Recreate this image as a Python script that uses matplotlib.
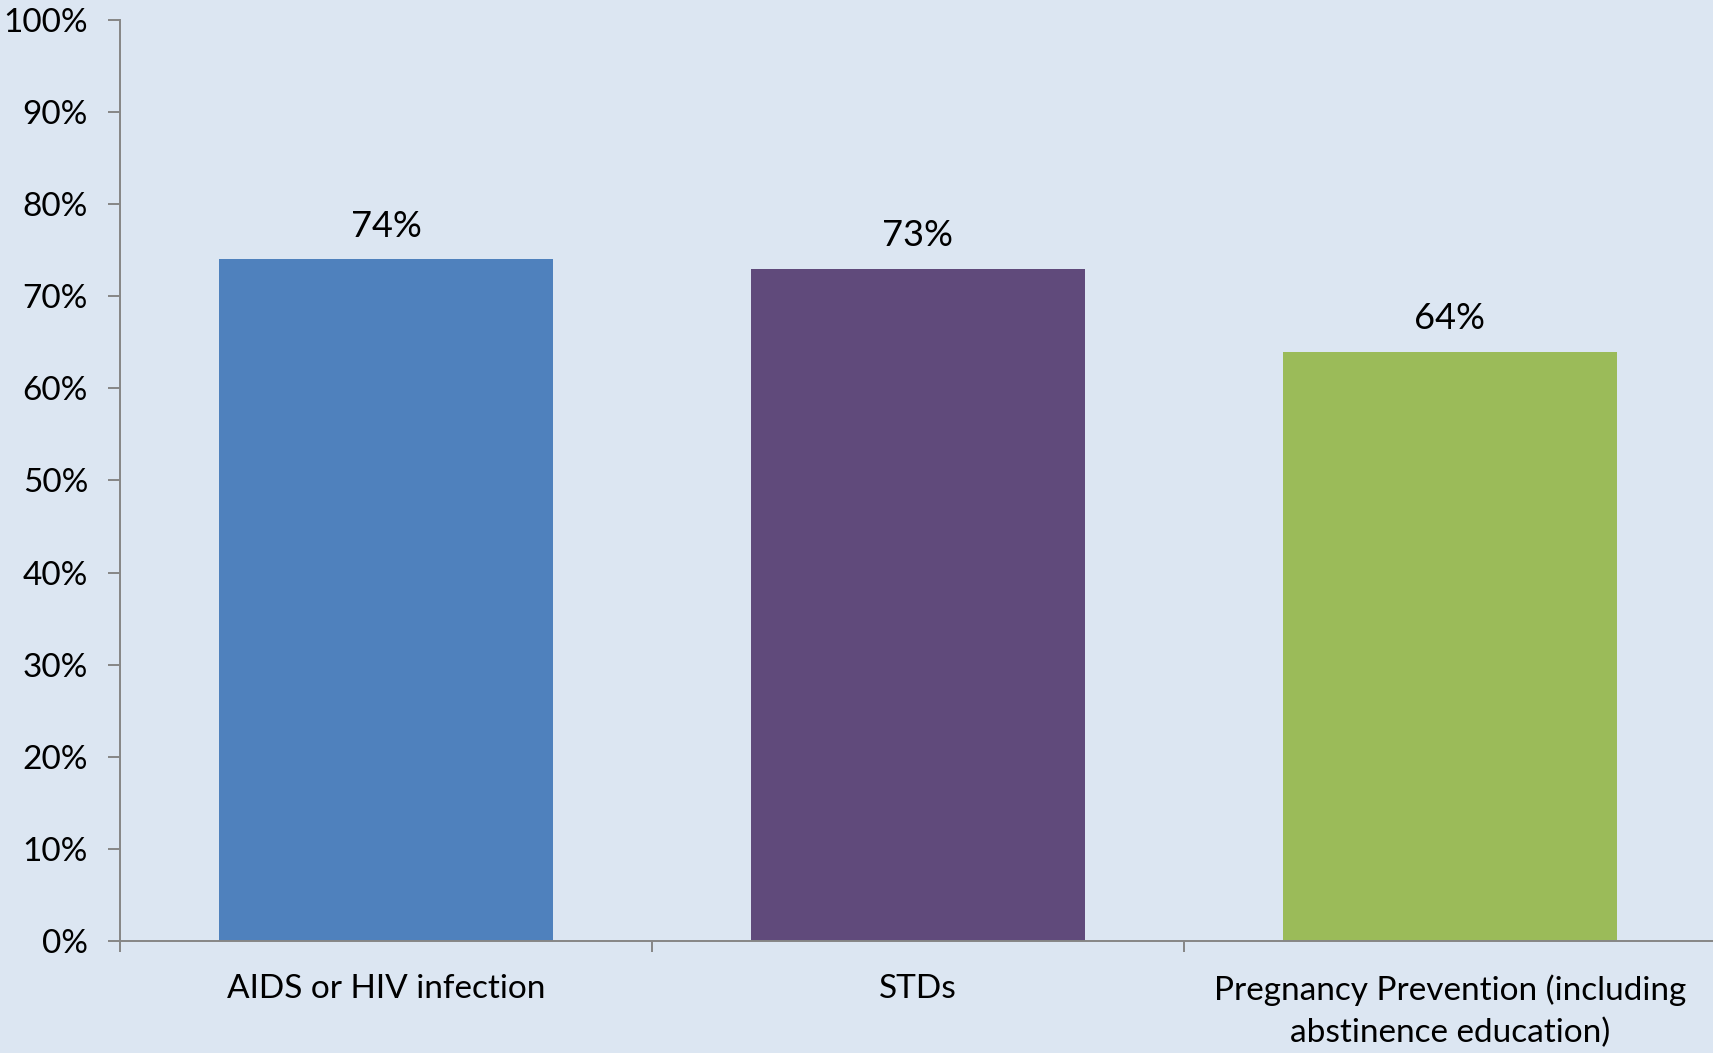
import matplotlib
matplotlib.use("Agg")
import matplotlib.pyplot as plt
from matplotlib.ticker import FixedLocator, PercentFormatter

categories = ["AIDS or HIV infection", "STDs", "Pregnancy Prevention (including\nabstinence education)"]
values = [74, 73, 64]
colors = ["#4F81BD", "#604A7B", "#9BBB59"]
yticks = list(range(0, 101, 10))

plt.rcParams['font.family'] = ['Lato', 'DejaVu Sans']

W, H = 1713, 1053
fig = plt.figure(figsize=(W / 100, H / 100), dpi=100)
bg = "#DCE6F2"
fig.patch.set_facecolor(bg)
ax = fig.add_axes([120 / W, (H - 941) / H, 1596 / W, 921 / H])
ax.set_facecolor(bg)

x = list(range(len(categories)))
ax.bar(x, values, width=0.626, color=colors, zorder=2)
for xi, v in zip(x, values):
    ax.annotate(f"{v}%", (xi, v), xytext=(0, 12), textcoords="offset points",
                ha="center", va="bottom", fontsize=26, color="black")

ax.set_xlim(-0.5, 2.5)
ax.set_ylim(0, 100)
ax.set_yticks(yticks)
ax.yaxis.set_major_formatter(PercentFormatter(decimals=0))
ax.set_xticks(x)
ax.set_xticklabels(categories, fontsize=24, linespacing=1.5)
ax.xaxis.set_minor_locator(FixedLocator([-0.5, 0.5, 1.5]))

axis_color = "#868686"
for s in ["top", "right"]:
    ax.spines[s].set_visible(False)
for s in ["left", "bottom"]:
    ax.spines[s].set_color(axis_color)
    ax.spines[s].set_linewidth(1.4)

ax.tick_params(axis="y", length=9, width=1.4, color=axis_color, labelsize=24, pad=14, labelcolor="black")
ax.tick_params(axis="x", which="major", length=0, pad=24, labelcolor="black")
ax.tick_params(axis="x", which="minor", length=8, width=1.4, color=axis_color)

fig.savefig("out.png", dpi=100, facecolor=bg)
